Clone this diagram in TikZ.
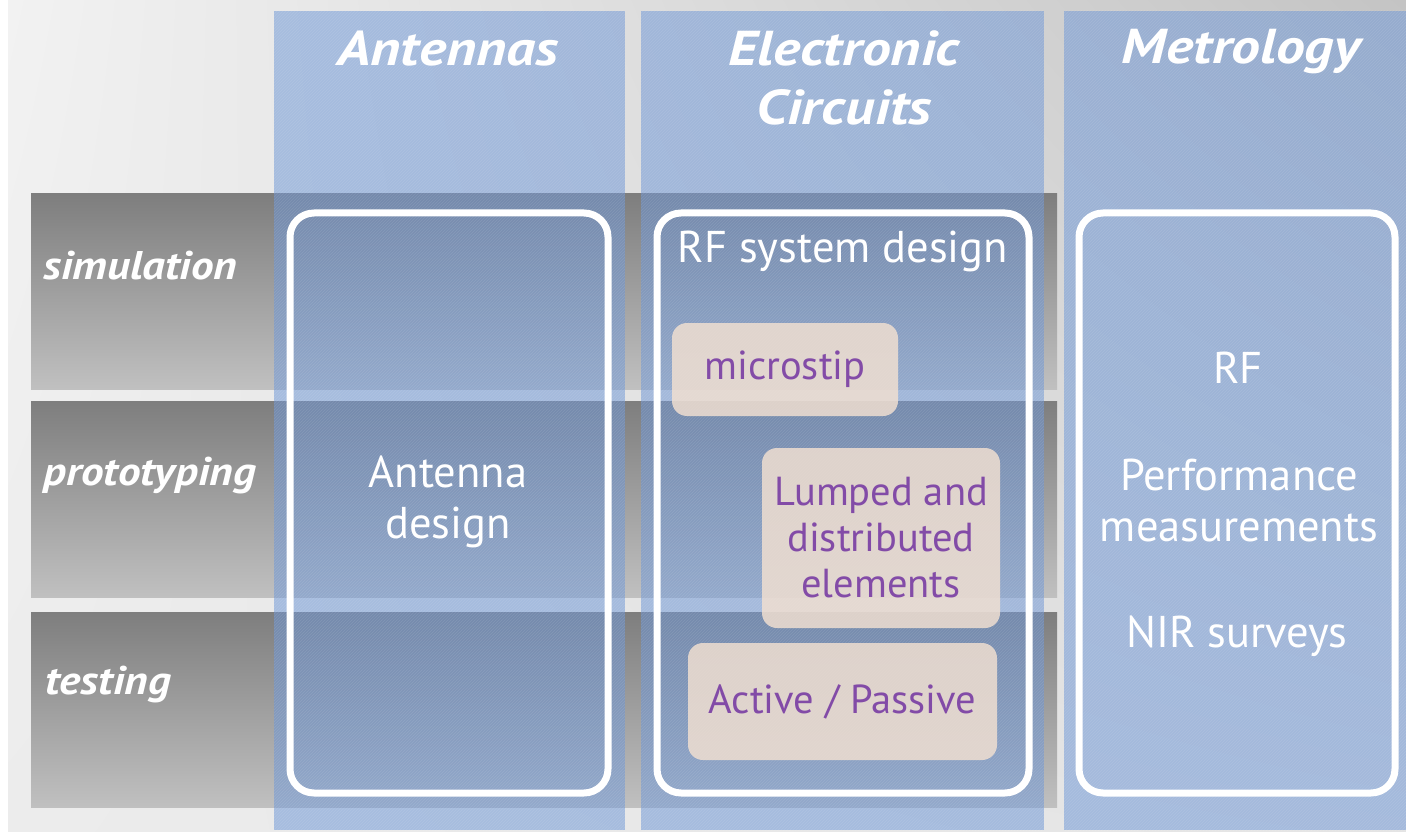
\documentclass[tikz,border=0pt]{standalone}
\usepackage{fontspec}
\setmainfont{PT Sans}
\newfontfamily\headfont[FakeStretch=1.18]{PT Sans}
\newfontfamily\rowfont[FakeStretch=1.13]{PT Sans}
\usetikzlibrary{patterns, shadings}

\definecolor{bgA}{RGB}{242,242,242}
\definecolor{bgB}{RGB}{196,196,196}
\definecolor{bgC}{RGB}{236,236,236}
\definecolor{bgD}{RGB}{228,228,228}
\definecolor{rowtop}{RGB}{126,126,126}
\definecolor{rowbot}{RGB}{192,192,192}
\definecolor{colblue}{RGB}{109,150,214}
\definecolor{boxbeige}{RGB}{242,224,209}
\definecolor{txtpurple}{RGB}{112,48,160}

\tikzset{
    rowband/.style={top color=rowtop, bottom color=rowbot},
    column/.style={fill=colblue, fill opacity=0.53},
    hatch/.style={pattern=north east lines, pattern color=white, opacity=0.10},
    areabox/.style={draw=white, line width=7pt, rounded corners=24pt},
    beigebox/.style={fill=boxbeige, fill opacity=0.83, rounded corners=15pt,
        text=txtpurple, font=\fontsize{40.5}{46}\selectfont, align=center,
        inner sep=0pt},
    headtxt/.style={text=white, font=\headfont\fontsize{49}{59}\selectfont\bfseries\itshape,
        align=center, inner sep=0pt},
    rowtxt/.style={text=white, font=\rowfont\fontsize{40}{46}\selectfont\bfseries\itshape,
        anchor=west, inner sep=0pt},
    bodytxt/.style={text=white, font=\fontsize{44.5}{51}\selectfont,
        align=center, inner sep=0pt}
}

\begin{document}
\begin{tikzpicture}[x=1pt, y=-1pt]
    % Background
    \useasboundingbox (0,0) rectangle (1406,837);
    \fill[white] (0,0) rectangle (1406,837);
    \shade[upper left=bgA, upper right=bgB, lower left=bgC, lower right=bgD]
        (8,0) rectangle (1406,831);

    % Rows
    \shade[rowband] (31,194) rectangle (1057,389);
    \shade[rowband] (31,401) rectangle (1057,597);
    \shade[rowband] (31,612) rectangle (1057,807);

    % Columns
    \foreach \xa/\xb in {274/625, 641/1044, 1064/1406} {
        \fill[column] (\xa,11) rectangle (\xb,830);
        \fill[hatch] (\xa,11) rectangle (\xb,830);
    }

    % Column headers
    \node[headtxt] (hant) at (448,49) {Antennas};
    \node[headtxt] (helec) at (844,78) {Electronic\\Circuits};
    \node[headtxt] (hmetro) at (1241,52) {Metrology};

    % Row labels
    \node[rowtxt] (rsim) at (43,266) {simulation};
    \node[rowtxt] (rproto) at (43,476) {prototyping};
    \node[rowtxt] (rtest) at (45,685) {testing};

    % White frames
    \draw[areabox] (290,213) rectangle (608,793);
    \draw[areabox] (657,213) rectangle (1029,793);
    \draw[areabox] (1079,213) rectangle (1395,793);

    % Antennas
    \node[bodytxt] (antdes) at (448,502) {Antenna\\design};

    % Electronic circuits
    \node[bodytxt] (rfsys) at (843,251) {RF system design};
    \node[beigebox, minimum width=226pt, minimum height=93pt] (micro)
        at (785,369.5) {microstip};
    \node[beigebox, minimum width=238pt, minimum height=180pt] (lumped)
        at (881,538) {Lumped and\\distributed\\elements};
    \node[beigebox, minimum width=309pt, minimum height=117pt] (actpas)
        at (842.5,701.5) {Active / Passive};

    % Metrology
    \node[bodytxt] (rf) at (1238,368) {RF};
    \node[bodytxt] (perf) at (1239,501) {Performance\\measurements};
    \node[bodytxt] (nir) at (1237,636) {NIR surveys};
\end{tikzpicture}
\end{document}
